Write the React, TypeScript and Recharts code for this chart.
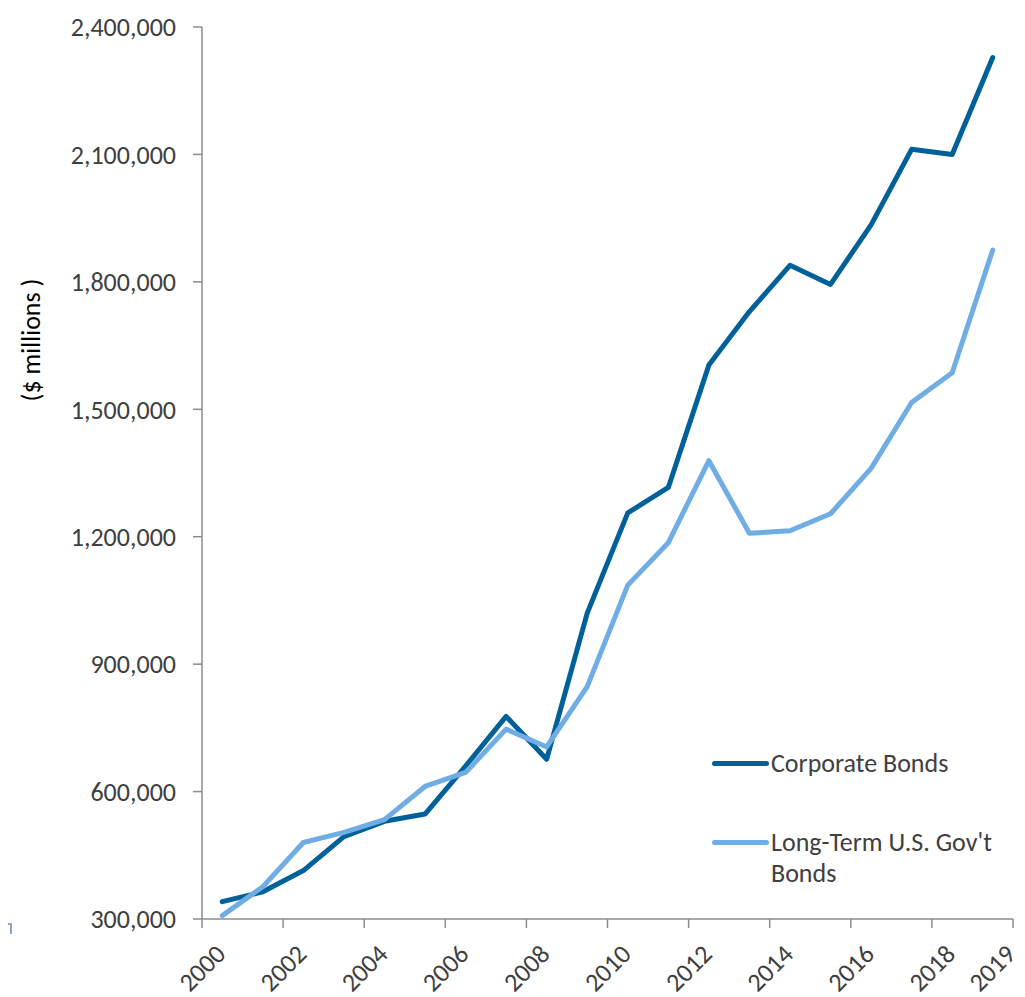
import { LineChart, Line, XAxis, YAxis, Legend, Label } from 'recharts'

// Corporate vs long-term government bond issuance, 2000-2019 ($ millions)

const years = [
  2000, 2001, 2002, 2003, 2004, 2005, 2006, 2007, 2008, 2009,
  2010, 2011, 2012, 2013, 2014, 2015, 2016, 2017, 2018, 2019,
]
const corporateBonds = [
  341000, 364000, 414000, 494000, 530000, 547000, 660000, 777000, 676000, 1020000,
  1256000, 1316000, 1604000, 1730000, 1839000, 1794000, 1934000, 2112000, 2100000, 2328000,
]
const govBonds = [
  308000, 376000, 480000, 504000, 534000, 612000, 645000, 747000, 705000, 847000,
  1086000, 1186000, 1379000, 1208000, 1214000, 1254000, 1361000, 1516000, 1586000, 1875000,
]
const xTicks = [2000, 2002, 2004, 2006, 2008, 2010, 2012, 2014, 2016, 2018, 2020]
const xTickLabels = ['2000', '2002', '2004', '2006', '2008', '2010', '2012', '2014', '2016', '2018', '2019']
const yTicks = [300000, 600000, 900000, 1200000, 1500000, 1800000, 2100000, 2400000]

const CORP_COLOR = '#00619A'
const GOV_COLOR = '#6FADE4'
const TEXT_COLOR = '#404040'
const AXIS_COLOR = '#8C8C8C'
const FONT = "Carlito, Calibri, 'Open Sans', sans-serif"
const FONT_SIZE = 26
const W = 1025
const H = 997

// each year sits in the middle of its slot, ticks on the slot boundaries
const chartData = years.map((year, i) => ({
  x: year + 0.5,
  corp: corporateBonds[i],
  gov: govBonds[i],
}))

function YearTick(props: any) {
  const { x, y, payload } = props
  const idx = xTicks.indexOf(payload.value)
  const label = idx >= 0 ? xTickLabels[idx] : String(payload.value)
  const cx = Math.min(x, W - 33) // keep the last label inside the frame
  return (
    <g transform={`translate(${cx},${y + 38})`}>
      <text
        textAnchor="middle"
        dominantBaseline="central"
        transform="rotate(-45)"
        fill={TEXT_COLOR}
        fontSize={FONT_SIZE}
        fontFamily={FONT}
      >
        {label}
      </text>
    </g>
  )
}

const legendItems = [
  { name: 'Corporate Bonds', color: CORP_COLOR },
  { name: "Long-Term U.S. Gov't Bonds", color: GOV_COLOR },
]

function ChartLegend() {
  return (
    <div style={{ fontFamily: FONT, fontSize: FONT_SIZE, color: TEXT_COLOR, lineHeight: '31px' }}>
      {legendItems.map((item, i) => (
        <div key={item.name} style={{ display: 'flex', alignItems: 'flex-start', marginBottom: i === 0 ? 48 : 0 }}>
          <div
            style={{
              width: 57,
              height: 5,
              borderRadius: 3,
              background: item.color,
              marginTop: 13,
              marginRight: 2,
              flexShrink: 0,
            }}
          />
          <div style={{ maxWidth: 245 }}>{item.name}</div>
        </div>
      ))}
    </div>
  )
}

export default function App() {
  return (
    <div style={{ position: 'relative', width: W, height: H, margin: '-8px 0 0 -8px' }}>
      <LineChart width={W} height={H} data={chartData} margin={{ top: 27, right: 12, bottom: 0, left: 0 }}>
        <XAxis
          dataKey="x"
          type="number"
          domain={[2000, 2020]}
          ticks={xTicks}
          interval={0}
          height={78}
          tick={<YearTick />}
          tickSize={9}
          tickMargin={2}
          stroke={AXIS_COLOR}
          strokeWidth={1.5}
          tickLine={{ stroke: AXIS_COLOR, strokeWidth: 1.5 }}
        />
        <YAxis
          type="number"
          domain={[300000, 2400000]}
          ticks={yTicks}
          interval={0}
          width={202}
          tickSize={9}
          tickMargin={17}
          tickFormatter={(v: number) => v.toLocaleString('en-US')}
          tick={{ fill: TEXT_COLOR, fontSize: FONT_SIZE, fontFamily: FONT }}
          stroke={AXIS_COLOR}
          strokeWidth={1.5}
          tickLine={{ stroke: AXIS_COLOR, strokeWidth: 1.5 }}
        >
          <Label
            content={() => (
              <text
                x={31}
                y={340}
                transform="rotate(-90, 31, 340)"
                textAnchor="middle"
                dominantBaseline="central"
                fill="#000"
                fontSize={FONT_SIZE}
                fontFamily={FONT}
              >
                ($ millions )
              </text>
            )}
          />
        </YAxis>
        <Legend
          layout="horizontal"
          verticalAlign="middle"
          align="center"
          content={<ChartLegend />}
          wrapperStyle={{ left: 712, top: 748, width: 310 }}
        />
        <Line
          type="linear"
          dataKey="corp"
          name="Corporate Bonds"
          stroke={CORP_COLOR}
          strokeWidth={5}
          strokeLinecap="round"
          strokeLinejoin="round"
          dot={false}
          activeDot={false}
          isAnimationActive={false}
        />
        <Line
          type="linear"
          dataKey="gov"
          name="Long-Term U.S. Gov't Bonds"
          stroke={GOV_COLOR}
          strokeWidth={5}
          strokeLinecap="round"
          strokeLinejoin="round"
          dot={false}
          activeDot={false}
          isAnimationActive={false}
        />
      </LineChart>
      {/* stray frame corner at lower left of the original */}
      <div
        style={{
          position: 'absolute',
          left: 0,
          top: 923,
          width: 10,
          height: 9,
          borderTop: '2px solid #8EA4CA',
          borderRight: '2px solid #8EA4CA',
        }}
      />
    </div>
  )
}
